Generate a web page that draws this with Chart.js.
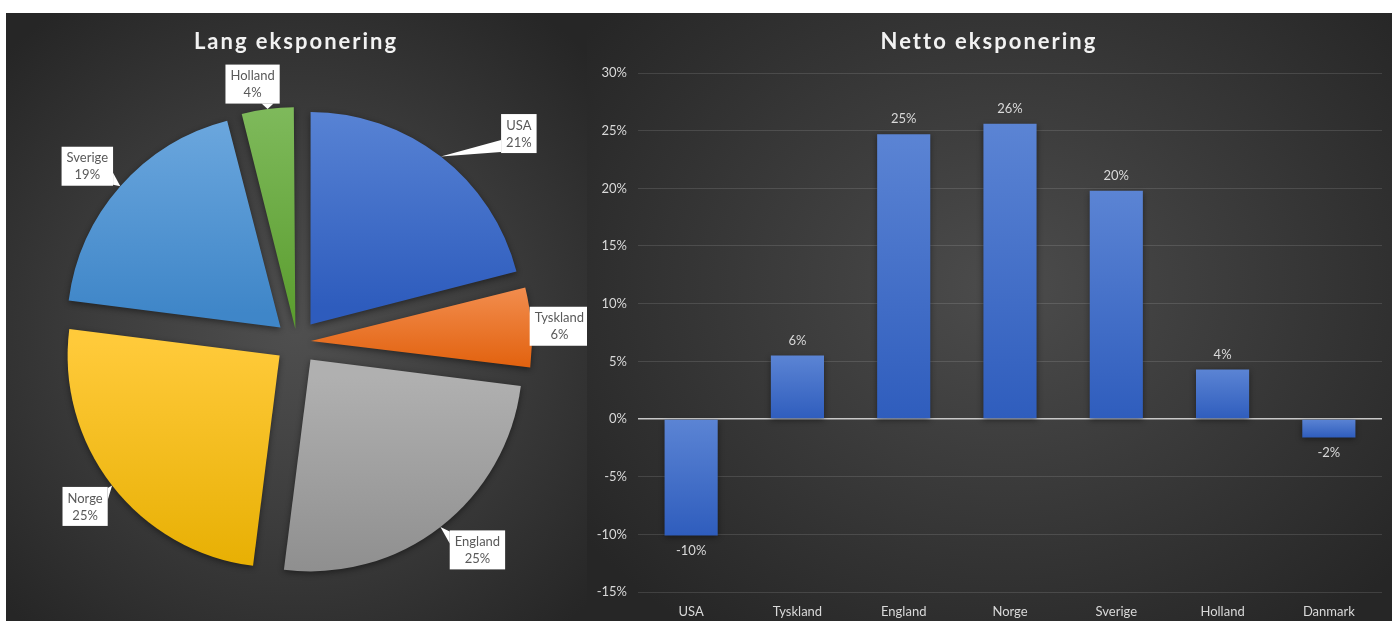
<!DOCTYPE html>
<html>
<head>
<meta charset="utf-8">
<script src="https://cdn.jsdelivr.net/npm/chart.js@4.4.1/dist/chart.umd.min.js"></script>
<style>
  html, body { margin: 0; background: #fff; overflow: hidden; }
  #wrap { position: absolute; left: 6px; top: 13px; width: 1386px; height: 608px; display: flex; }
  canvas { display: block; }
  #pie { background: radial-gradient(ellipse 70% 65% at 50% 52%, #4f4f4f 0%, #3c3c3c 50%, #262626 100%); }
  #bar { background: radial-gradient(ellipse 65% 70% at 52% 45%, #4c4c4c 0%, #393939 50%, #262626 100%); }
</style>
</head>
<body>
<div id="wrap">
  <canvas id="pie" width="581" height="608"></canvas>
  <canvas id="bar" width="805" height="608"></canvas>
</div>
<script>
// data
const pieLabels = ['USA', 'Tyskland', 'England', 'Norge', 'Sverige', 'Holland'];
const pieValues = [21, 6, 25, 25, 19, 4];
const barLabels = ['USA', 'Tyskland', 'England', 'Norge', 'Sverige', 'Holland', 'Danmark'];
const barValues = [-0.101, 0.055, 0.247, 0.256, 0.198, 0.043, -0.016];
const yMin = -0.15, yMax = 0.30, yStep = 0.05;

// styles
const pieTop = ['#5b86d6', '#f28d4e', '#b0b0b0', '#ffca3a', '#6ea9df', '#7fba5c'];
const pieBottom = ['#2e5cbd', '#e2620f', '#8c8c8c', '#e6ae00', '#3f86c8', '#5c9e30'];
const PIE_RADIUS = 212;
// explode distance in px per slice (chart.js moves a slice by offset / 4)
const explode = [22, 14, 22, 22, 22, 13];
// label box centre relative to the point on the slice edge
const calloutShift = [[78, -23], [28, -1], [37, 23], [-27, 21], [-33, -20], [-15, -25]];
const textColor = '#d9d9d9';

Chart.defaults.font.family = 'Lato';

const pctText = v => Math.round(v * 100) + '%';
const pieTotal = pieValues.reduce((a, b) => a + b, 0);

function sliceAngles(i) {
  let cum = 0;
  for (let k = 0; k < i; k++) cum += pieValues[k];
  const a0 = -Math.PI / 2 + 2 * Math.PI * cum / pieTotal;
  const a1 = a0 + 2 * Math.PI * pieValues[i] / pieTotal;
  return [a0, a1];
}

function sliceFill(c) {
  const chart = c.chart, area = chart.chartArea, i = c.dataIndex;
  if (!area) return pieTop[i];
  const [a0, a1] = sliceAngles(i);
  const mid = (a0 + a1) / 2;
  const cy = (area.top + area.bottom) / 2 + Math.sin(mid) * explode[i];
  let lo = cy, hi = cy;
  for (let s = 0; s <= 24; s++) {
    const y = cy + Math.sin(a0 + (a1 - a0) * s / 24) * PIE_RADIUS;
    lo = Math.min(lo, y); hi = Math.max(hi, y);
  }
  const g = chart.ctx.createLinearGradient(0, lo, 0, hi);
  g.addColorStop(0, pieTop[i]);
  g.addColorStop(1, pieBottom[i]);
  return g;
}

function barFill(c) {
  const y = c.chart.scales.y;
  if (!y || typeof c.raw !== 'number') return '#4472c4';
  const a = y.getPixelForValue(c.raw), b = y.getPixelForValue(0);
  if (!isFinite(a) || !isFinite(b) || a === b) return '#4472c4';
  const g = c.chart.ctx.createLinearGradient(0, Math.min(a, b), 0, Math.max(a, b));
  g.addColorStop(0, '#5b84d4');
  g.addColorStop(1, '#2f5dbd');
  return g;
}

const panelTitle = {
  id: 'panelTitle',
  afterDraw(chart, args, opts) {
    const ctx = chart.ctx;
    ctx.save();
    ctx.font = 'bold 22px Lato';
    ctx.letterSpacing = '2px';
    ctx.fillStyle = '#f2f2f2';
    ctx.textAlign = 'center';
    ctx.textBaseline = 'middle';
    ctx.fillText(opts.text, opts.x, opts.y);
    ctx.restore();
  }
};

const softShadow = {
  id: 'softShadow',
  beforeDatasetsDraw(chart) {
    const ctx = chart.ctx;
    ctx.save();
    ctx.shadowColor = 'rgba(0,0,0,0.45)';
    ctx.shadowBlur = 6;
    ctx.shadowOffsetY = 2;
  },
  afterDatasetsDraw(chart) {
    chart.ctx.restore();
  }
};

const pieCallouts = {
  id: 'pieCallouts',
  afterDatasetsDraw(chart) {
    const ctx = chart.ctx, meta = chart.getDatasetMeta(0);
    ctx.save();
    ctx.font = '13px Lato';
    meta.data.forEach((arc, i) => {
      const p = arc.getProps(['x', 'y', 'startAngle', 'endAngle', 'outerRadius', 'circumference']);
      const mid = (p.startAngle + p.endAngle) / 2;
      const t = explode[i];
      const fix = 1 - Math.sin(Math.min(Math.PI, p.circumference || 0));
      const r = p.outerRadius + t + t * fix;
      const ax = p.x + Math.cos(mid) * r, ay = p.y + Math.sin(mid) * r;
      const bx = ax + calloutShift[i][0], by = ay + calloutShift[i][1];
      const lines = [pieLabels[i], Math.round(pieValues[i] / pieTotal * 100) + '%'];
      const w = Math.max(...lines.map(s => ctx.measureText(s).width)) + 10;
      const h = 39;
      const L = bx - w / 2, R = bx + w / 2, T = by - h / 2, B = by + h / 2;
      ctx.fillStyle = '#ffffff';
      const dx = ax - Math.min(Math.max(ax, L), R);
      const dy = ay - Math.min(Math.max(ay, T), B);
      if (dx !== 0 || dy !== 0) {
        ctx.beginPath();
        if (Math.abs(dx) >= Math.abs(dy)) {
          const ex = dx < 0 ? L : R;
          const yc = Math.min(Math.max(ay, T + 7), B - 7);
          ctx.moveTo(ex, yc - 6); ctx.lineTo(ax, ay); ctx.lineTo(ex, yc + 6);
        } else {
          const ey = dy < 0 ? T : B;
          const xc = Math.min(Math.max(ax, L + 7), R - 7);
          ctx.moveTo(xc - 6, ey); ctx.lineTo(ax, ay); ctx.lineTo(xc + 6, ey);
        }
        ctx.closePath();
        ctx.fill();
      }
      ctx.fillRect(L, T, w, h);
      ctx.fillStyle = '#595959';
      ctx.textAlign = 'center';
      ctx.textBaseline = 'middle';
      ctx.fillText(lines[0], bx, by - 8);
      ctx.fillText(lines[1], bx, by + 9);
    });
    ctx.restore();
  }
};

const barValueLabels = {
  id: 'barValueLabels',
  afterDatasetsDraw(chart) {
    const ctx = chart.ctx, meta = chart.getDatasetMeta(0);
    ctx.save();
    ctx.font = '13px Lato';
    ctx.fillStyle = textColor;
    ctx.textAlign = 'center';
    ctx.textBaseline = 'middle';
    meta.data.forEach((bar, i) => {
      const v = barValues[i];
      ctx.fillText(pctText(v), bar.x, v >= 0 ? bar.y - 15 : bar.y + 15);
    });
    ctx.restore();
  }
};

new Chart(document.getElementById('pie'), {
  type: 'pie',
  data: {
    labels: pieLabels,
    datasets: [{
      data: pieValues,
      backgroundColor: sliceFill,
      borderWidth: 0,
      offset: explode.map(e => e * 4),
      radius: PIE_RADIUS
    }]
  },
  options: {
    responsive: false,
    animation: false,
    events: [],
    layout: { padding: { left: 22, right: 21, top: 70, bottom: 20 } },
    plugins: {
      legend: { display: false },
      tooltip: { enabled: false },
      panelTitle: { text: 'Lang eksponering', x: 290, y: 29 }
    }
  },
  plugins: [panelTitle, softShadow, pieCallouts]
});

new Chart(document.getElementById('bar'), {
  type: 'bar',
  data: {
    labels: barLabels,
    datasets: [{
      data: barValues,
      backgroundColor: barFill,
      borderWidth: 0,
      categoryPercentage: 1,
      barPercentage: 0.5
    }]
  },
  options: {
    responsive: false,
    animation: false,
    events: [],
    layout: { padding: { top: 60, right: 10, bottom: 0, left: 0 } },
    scales: {
      x: {
        grid: { display: false },
        border: { display: false },
        ticks: { color: textColor, font: { size: 13 }, padding: 4 },
        afterFit(s) { s.height = 29; }
      },
      y: {
        min: yMin,
        max: yMax,
        ticks: { stepSize: yStep, callback: v => pctText(v), color: textColor, font: { size: 13 }, padding: 11 },
        grid: {
          drawTicks: false,
          color: c => Math.abs(c.tick.value) < 1e-9 ? '#c8c8c8' : 'rgba(255,255,255,0.12)',
          lineWidth: c => Math.abs(c.tick.value) < 1e-9 ? 1.5 : 1
        },
        border: { display: false },
        afterFit(s) { s.width = 51; }
      }
    },
    plugins: {
      legend: { display: false },
      tooltip: { enabled: false },
      panelTitle: { text: 'Netto eksponering', x: 402, y: 29 }
    }
  },
  plugins: [panelTitle, softShadow, barValueLabels]
});
</script>
</body>
</html>
